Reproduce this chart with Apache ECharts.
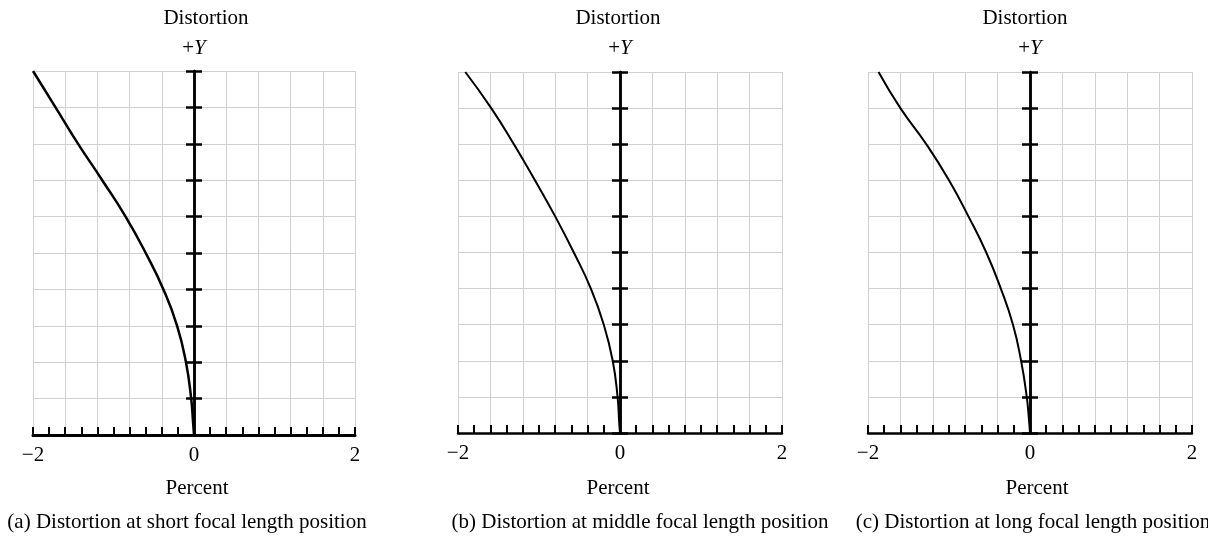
<!DOCTYPE html>
<html>
<head>
    <meta charset="utf-8">
    <title>Distortion</title>
    <script src="https://cdn.jsdelivr.net/npm/echarts@6/dist/echarts.min.js"></script>
    <style>
        html, body {margin: 0; padding: 0; background: #fff}
        #main {width: 1208px; height: 536px}
    </style>
</head>
<body>
<div id="main"></div>

<script>
    // relative field height (0 = centre, 1 = full field)
    var fieldY = [0, 0.03, 0.1, 0.2, 0.3, 0.4, 0.5, 0.6, 0.7, 0.8, 0.9, 1.0];
    // distortion in percent, read at each field height
    var distShort  = [0, -0.01, -0.035, -0.10, -0.21, -0.38, -0.60, -0.85, -1.14, -1.44, -1.72, -2.00];
    var distMiddle = [0, -0.01, -0.03, -0.09, -0.20, -0.36, -0.57, -0.80, -1.05, -1.31, -1.59, -1.91];
    var distLong   = [0, -0.01, -0.04, -0.11, -0.21, -0.36, -0.54, -0.76, -1.00, -1.28, -1.60, -1.87];

    var xTickLabels = [-2, 0, 2];
    var captions = [
        '(a) Distortion at short focal length position',
        '(b) Distortion at middle focal length position',
        '(c) Distortion at long focal length position'
    ];

    var serif = '"Liberation Serif", "Times New Roman", serif';
    var FS = 21;

    // panel boxes
    var panels = [
        {left: 33, top: 71, width: 322, height: 364, axisW: 3, data: distShort, cap: 187, title: 206, pct: 197},
        {left: 458, top: 72, width: 324, height: 361, axisW: 2.5, data: distMiddle, cap: 640, title: 618, pct: 618},
        {left: 868, top: 72, width: 324, height: 361, axisW: 2.5, data: distLong, cap: 1033, title: 1025, pct: 1037}
    ];

    var grid = [], xAxis = [], yAxis = [], series = [], graphic = [];

    panels.forEach(function (p, i) {
        grid.push({left: p.left, top: p.top, width: p.width, height: p.height});

        xAxis.push({
            type: 'value', gridIndex: i, min: -2, max: 2, interval: 0.4,
            axisLine: {onZero: false, lineStyle: {color: '#000', width: p.axisW}},
            axisTick: {show: true, inside: true, length: 8, lineStyle: {color: '#000', width: 2}},
            minorTick: {show: true, splitNumber: 2, length: 8, lineStyle: {color: '#000', width: 2}},
            axisLabel: {
                customValues: xTickLabels, margin: 10, color: '#000',
                fontFamily: serif, fontSize: FS,
                formatter: function (v) { return v < 0 ? '\u2212' + Math.abs(v) : String(v); }
            },
            splitLine: {show: true, lineStyle: {color: '#d0d0d0', width: 1}}
        });

        // y axis sits on x = 0, ticks on both sides -> two axes on the same line
        yAxis.push({
            type: 'value', gridIndex: i, min: 0, max: 1, interval: 0.1, position: 'left',
            axisLine: {show: true, onZero: true, onZeroAxisIndex: i, lineStyle: {color: '#000', width: 2.5}},
            axisTick: {show: true, length: 8, lineStyle: {color: '#000', width: 2.5}},
            axisLabel: {show: false},
            splitLine: {show: true, lineStyle: {color: '#d0d0d0', width: 1}}
        });
        yAxis.push({
            type: 'value', gridIndex: i, min: 0, max: 1, interval: 0.1, position: 'right',
            axisLine: {show: true, onZero: true, onZeroAxisIndex: i, lineStyle: {color: '#000', width: 2.5}},
            axisTick: {show: true, length: 8, lineStyle: {color: '#000', width: 2.5}},
            axisLabel: {show: false},
            splitLine: {show: false}
        });

        series.push({
            type: 'line', xAxisIndex: i, yAxisIndex: 2 * i,
            data: fieldY.map(function (y, k) { return [p.data[k], y]; }),
            smooth: 0.5, showSymbol: false, symbol: 'none', clip: true,
            lineStyle: {color: '#000', width: i === 0 ? 2.5 : 2},
            z: 5
        });

        var axisX = p.left + p.width / 2;
        graphic.push(
            {type: 'text', x: p.title, y: 18, style: {text: 'Distortion', font: FS + 'px ' + serif, fill: '#000', align: 'center', verticalAlign: 'middle'}},
            {type: 'text', x: axisX, y: 48, style: {
                text: '+{i|Y}', font: FS + 'px ' + serif, fill: '#000', align: 'center', verticalAlign: 'middle',
                rich: {i: {fontStyle: 'italic', fontFamily: serif, fontSize: FS, fill: '#000'}}
            }},
            {type: 'text', x: p.pct, y: 488, style: {text: 'Percent', font: FS + 'px ' + serif, fill: '#000', align: 'center', verticalAlign: 'middle'}},
            {type: 'text', x: p.cap, y: 522, style: {text: captions[i], font: FS + 'px ' + serif, fill: '#000', align: 'center', verticalAlign: 'middle'}}
        );
    });

    var myChart = echarts.init(document.getElementById('main'));
    myChart.setOption({
        animation: false,
        grid: grid,
        xAxis: xAxis,
        yAxis: yAxis,
        series: series,
        graphic: graphic
    });
</script>
</body>
</html>
